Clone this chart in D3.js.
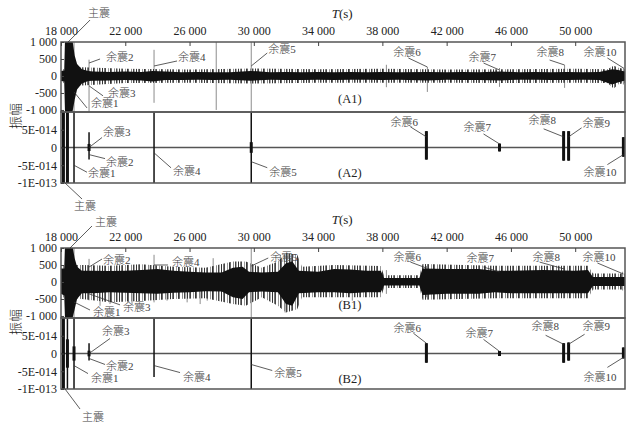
<!DOCTYPE html>
<html>
  <head>
    <meta charset="UTF-8">
    <style>
      body {
        margin: 0;
        background: white;
      }

      svg text {
        font-family: 'Liberation Serif', 'Noto Sans CJK SC', serif;
        fill: #222;
      }

      .axis text {
        font-size: 12px;
      }

      .axis .domain {
        display: none;
      }

      .axis .tick line {
        stroke: #444;
      }

      .note text {
        font-size: 11px;
        font-weight: 300;
        fill: #444;
      }

      .note line {
        stroke: #333;
        stroke-width: 0.8;
      }

      .frame {
        fill: none;
        stroke: #555;
        stroke-width: 1.5;
      }
    </style>
    <script src="https://d3js.org/d3.v7.min.js"></script>
  </head>

  <body>
    <svg id="chart"></svg>

    <script type="text/javascript">
      // axes
      const timeTicks = [18000, 22000, 26000, 30000, 34000, 38000, 42000, 46000, 50000]
      const ampTicks = [1000, 500, 0, -500, -1000]
      const eventTicks = [5e-14, 0, -5e-14, -1e-13]
      const eventTickLabels = ['5E-014', '0', '-5E-014', '-1E-013']

      // (A1) raw record: dense band envelope
      const a1Time = [18000, 18200, 18250, 18700, 18850, 19000, 19300, 19700, 20000, 21000,
        22000, 23000, 23700, 24500, 25500, 26500, 27500, 28500, 29800, 31000,
        32000, 33000, 34000, 35000, 36000, 37000, 38000, 39000, 40800, 42000,
        43000, 44000, 45300, 46500, 47500, 48500, 49500, 50500, 51500, 52300,
        52600, 53100]
      const a1Upper = [150, 160, 1100, 1100, 600, 350, 200, 150, 130, 120,
        130, 120, 150, 130, 110, 120, 110, 110, 150, 110,
        120, 110, 120, 110, 120, 110, 120, 110, 120, 110,
        120, 110, 130, 110, 120, 110, 120, 110, 120, 200,
        180, 130]
      const a1Lower = [-150, -160, -1100, -1100, -700, -400, -220, -150, -140, -130,
        -120, -130, -160, -120, -120, -110, -120, -110, -140, -110,
        -120, -120, -110, -120, -110, -110, -120, -110, -130, -110,
        -120, -120, -130, -110, -110, -120, -120, -110, -120, -250,
        -200, -130]
      // (A1) peaks around the band
      const a1PeakTime = [18000, 19300, 22000, 26000, 30000, 34000, 38000, 42000, 46000, 50000, 52000, 52400, 52700, 53100]
      const a1PeakUpper = [200, 260, 210, 190, 220, 200, 210, 190, 200, 210, 200, 300, 240, 200]
      const a1PeakLower = [-200, -280, -210, -200, -220, -200, -200, -200, -210, -200, -210, -370, -240, -200]
      // (A1) isolated spikes
      const a1SpikeTime = [18810, 19745, 23790, 27660, 29840, 38250, 40800, 45290, 49340, 53000]
      const a1SpikeTop = [1000, 480, 770, 1000, 1000, 330, 265, 235, 320, 250]
      const a1SpikeBottom = [-1060, -1060, -790, -1000, -1060, -330, -470, -320, -350, -250]

      // (A2) extracted events
      const a2Time = [18150, 18400, 18810, 19745, 23790, 29840, 40740, 45290, 49280, 49590, 53000]
      const a2Top = [1e-13, 1e-13, 1e-13, 4.3e-14, 1e-13, 1e-13, 4.6e-14, 1.1e-14, 4.6e-14, 4.6e-14, 2.9e-14]
      const a2Bottom = [-1e-13, -1e-13, -1e-13, -3.4e-14, -1e-13, -1e-13, -3.4e-14, -1.1e-14, -3.7e-14, -3.7e-14, -2.6e-14]
      const a2CoreTop = [1e-13, 1e-13, 0, 1e-14, 0, 1.5e-14, 4.6e-14, 1.1e-14, 4.6e-14, 4.6e-14, 2.9e-14]
      const a2CoreBottom = [-1e-13, -1e-13, 0, -1e-14, 0, -1.5e-14, -3.4e-14, -1.1e-14, -3.7e-14, -3.7e-14, -2.6e-14]

      // (B1) raw record
      const b1Time = [18000, 18200, 18250, 18700, 18850, 19000, 19300, 20000, 21000, 22000,
        23000, 24000, 25000, 26000, 27000, 28000, 28700, 29300, 29700, 30500,
        31500, 32000, 32400, 32800, 34000, 35000, 36000, 37000, 37900, 38100,
        40300, 40500, 42000, 44000, 45000, 46000, 48000, 50000, 50800, 51100,
        53100]
      const b1Upper = [400, 400, 1100, 1100, 700, 450, 330, 330, 320, 330,
        350, 380, 330, 300, 280, 280, 420, 450, 300, 280,
        300, 550, 600, 330, 300, 380, 370, 330, 330, 120,
        120, 400, 380, 380, 330, 330, 350, 330, 350, 150,
        150]
      const b1Lower = [-350, -400, -1100, -1100, -800, -500, -330, -330, -300, -320,
        -330, -350, -320, -300, -270, -280, -450, -500, -300, -280,
        -300, -650, -700, -330, -300, -300, -330, -300, -300, -100,
        -100, -380, -350, -350, -300, -330, -330, -330, -330, -120,
        -120]
      const b1PeakTime = [18000, 19300, 21000, 23000, 25000, 27000, 28700, 29500, 30500, 31500, 32000,
        32700, 33000, 35000, 37900, 38100, 40300, 40500, 45000, 50800, 51100, 53100]
      const b1PeakUpper = [500, 500, 480, 520, 450, 420, 600, 600, 420, 600, 850,
        800, 450, 500, 470, 200, 200, 530, 480, 480, 250, 250]
      const b1PeakLower = [-450, -500, -600, -560, -500, -480, -650, -700, -450, -700, -900,
        -800, -450, -450, -450, -180, -180, -520, -480, -480, -220, -220]
      const b1SpikeTime = [18810, 19745, 20430, 21050, 21800, 22420, 23550, 23790, 24600, 25850, 26660, 27100,
        27470, 29840, 31650, 31950, 32270, 36130, 38250, 40740, 45290, 49340, 52950]
      const b1SpikeTop = [1000, 680, 300, 300, 300, 300, 500, 800, 300, 300, 300, 400,
        700, 1000, 800, 500, 700, 300, 350, 470, 350, 400, 300]
      const b1SpikeBottom = [-1060, -540, -700, -650, -500, -650, -300, -600, -550, -600, -650, -550,
        -300, -1060, -400, -900, -400, -550, -350, -450, -350, -450, -250]

      // (B2) extracted events
      const b2Time = [18150, 18400, 18810, 19745, 23790, 29840, 40740, 45290, 49280, 49590, 53000]
      const b2Top = [1e-13, 1e-13, 1e-13, 2.9e-14, 1e-13, 1e-13, 2.9e-14, 0.7e-14, 2.9e-14, 3.1e-14, 1.7e-14]
      const b2Bottom = [-1e-13, -1e-13, -1e-13, -2e-14, -6.6e-14, -1e-13, -2.6e-14, -0.7e-14, -2.6e-14, -2e-14, -1.4e-14]
      const b2CoreTop = [1e-13, 4e-14, 2e-14, 0.8e-14, 0, 0, 2.9e-14, 0.7e-14, 2.9e-14, 3.1e-14, 1.7e-14]
      const b2CoreBottom = [-1e-13, -4e-14, -2e-14, -0.8e-14, 0, 0, -2.6e-14, -0.7e-14, -2.6e-14, -2e-14, -1.4e-14]

      // labels: event time/value plus leader offsets (px)
      const notesA1 = [
        { text: '主震', t: 18440, v: 1000, dx: 22, dy: -22, tx: -2, ty: -7 },
        { text: '余震2', t: 19745, v: 382, dx: 11, dy: -4, tx: 6, ty: -2 },
        { text: '余震4', t: 23790, v: 294, dx: 23, dy: -5, tx: 1, ty: -4 },
        { text: '余震5', t: 29840, v: 294, dx: 16, dy: -13, tx: 1, ty: -4 },
        { text: '余震3', t: 19745, v: -290, dx: 14, dy: 10, tx: 5, ty: -3 },
        { text: '余震1', t: 18810, v: -470, dx: 13, dy: 16, tx: 4, ty: -5 },
        { text: '余震6', t: 40800, v: 265, dx: -19, dy: -9, tx: -15, ty: -6 },
        { text: '余震7', t: 45290, v: 176, dx: -16, dy: -7, tx: -15, ty: -6 },
        { text: '余震8', t: 49340, v: 323, dx: -15, dy: -5, tx: -13, ty: -8 },
        { text: '余震10', t: 53000, v: 235, dx: -16, dy: -10, tx: -24, ty: -6 },
      ]
      const notesA2 = [
        { text: '余震3', t: 19745, v: 0, dx: 13, dy: -10, tx: 1, ty: -5 },
        { text: '余震2', t: 19745, v: -2e-14, dx: 16, dy: 4, tx: 1, ty: 3 },
        { text: '余震1', t: 18810, v: -5e-14, dx: 13, dy: 7, tx: 1, ty: 1 },
        { text: '余震4', t: 23790, v: -1.5e-14, dx: 17, dy: 15, tx: 2, ty: 3 },
        { text: '余震5', t: 29840, v: -4e-14, dx: 16, dy: 6, tx: 2, ty: 4 },
        { text: '主震', t: 18250, v: -1e-13, dx: 17, dy: 16, tx: -8, ty: 7 },
        { text: '余震6', t: 40740, v: 3e-14, dx: -16, dy: -10, tx: -20, ty: -5 },
        { text: '余震7', t: 45290, v: 1e-14, dx: -16, dy: -10, tx: -20, ty: -7 },
        { text: '余震8', t: 49280, v: 3e-14, dx: -20, dy: -8, tx: -15, ty: -9 },
        { text: '余震9', t: 49590, v: 3e-14, dx: 13, dy: -9, tx: 1, ty: -5 },
        { text: '余震10', t: 53000, v: -2e-14, dx: -16, dy: 10, tx: -24, ty: 7 },
      ]
      const notesB1 = [
        { text: '主震', t: 18560, v: 1000, dx: 22, dy: -22, tx: 3, ty: -4 },
        { text: '余震2', t: 19745, v: 440, dx: 13, dy: -8, tx: 1, ty: 1 },
        { text: '余震4', t: 23790, v: 500, dx: 14, dy: 0, tx: 4, ty: -3 },
        { text: '余震5', t: 29840, v: 470, dx: 17, dy: -8, tx: 2, ty: -1 },
        { text: '余震1', t: 18810, v: -590, dx: 16, dy: 8, tx: 3, ty: 2 },
        { text: '余震3', t: 19745, v: -350, dx: 31, dy: 11, tx: 3, ty: 2 },
        { text: '余震6', t: 40740, v: 410, dx: -16, dy: -6, tx: -17, ty: -5 },
        { text: '余震7', t: 45290, v: 294, dx: -16, dy: -5, tx: -17, ty: -9 },
        { text: '余震8', t: 49340, v: 380, dx: -25, dy: -7, tx: -7, ty: -5 },
        { text: '余震10', t: 53000, v: 235, dx: -26, dy: -11, tx: -15, ty: -6 },
      ]
      const notesB2 = [
        { text: '余震3', t: 19745, v: 0, dx: 21, dy: -15, tx: -8, ty: -7 },
        { text: '余震2', t: 19745, v: -1.4e-14, dx: 16, dy: 6, tx: 1, ty: 2 },
        { text: '余震1', t: 18810, v: -3.4e-14, dx: 14, dy: 8, tx: 3, ty: 4 },
        { text: '余震4', t: 23790, v: -3.4e-14, dx: 26, dy: 7, tx: 3, ty: 4 },
        { text: '余震5', t: 29840, v: -3.1e-14, dx: 21, dy: 6, tx: 2, ty: 3 },
        { text: '主震', t: 18250, v: -1e-13, dx: 15, dy: 20, tx: 2, ty: 8 },
        { text: '余震6', t: 40740, v: 2.9e-14, dx: -13, dy: -10, tx: -20, ty: -5 },
        { text: '余震7', t: 45290, v: 0.6e-14, dx: -16, dy: -12, tx: -18, ty: -6 },
        { text: '余震8', t: 49280, v: 2.6e-14, dx: -18, dy: -9, tx: -14, ty: -9 },
        { text: '余震9', t: 49590, v: 2.6e-14, dx: 16, dy: -10, tx: -2, ty: -8 },
        { text: '余震10', t: 53000, v: -1.1e-14, dx: -16, dy: 10, tx: -24, ty: 10 },
      ]

      const locale = d3.formatLocale({ decimal: '.', thousands: ' ', grouping: [3], currency: ['', ''], minus: '-' })
      const fmt = locale.format(',')

      function rows(time, hi, lo) {
        return time.map((t, i) => ({ t: t, hi: hi[i], lo: lo[i] }))
      }

      function getChartConfig() {
        let width = 636
        let height = 424
        let margin = { left: 61, right: 11 }
        let waveHeight = 70
        let eventHeight = 71

        let svg = d3.select('#chart')
          .attr('width', width)
          .attr('height', height)

        // hairy fill for the noise fringe (irregular comb of thin strokes)
        let hair = svg.append('defs')
          .append('pattern')
          .attr('id', 'hair')
          .attr('patternUnits', 'userSpaceOnUse')
          .attr('width', 17)
          .attr('height', 10)
        let strands = [[0, '#333'], [2, '#777'], [3, '#444'], [6, '#999'], [8, '#333'], [9, '#666'], [12, '#888'], [14, '#444'], [15, '#aaa']]
        strands.forEach(s => {
          hair.append('rect')
            .attr('x', s[0]).attr('width', 1).attr('height', 10)
            .attr('fill', s[1])
        })

        let groups = [
          {
            name: 'A', top: 42,
            band: rows(a1Time, a1Upper, a1Lower),
            peaks: rows(a1PeakTime, a1PeakUpper, a1PeakLower),
            spikes: rows(a1SpikeTime, a1SpikeTop, a1SpikeBottom),
            events: rows(a2Time, a2Top, a2Bottom),
            cores: rows(a2Time, a2CoreTop, a2CoreBottom),
            waveNotes: notesA1, eventNotes: notesA2,
          },
          {
            name: 'B', top: 248,
            band: rows(b1Time, b1Upper, b1Lower),
            peaks: rows(b1PeakTime, b1PeakUpper, b1PeakLower),
            spikes: rows(b1SpikeTime, b1SpikeTop, b1SpikeBottom),
            events: rows(b2Time, b2Top, b2Bottom),
            cores: rows(b2Time, b2CoreTop, b2CoreBottom),
            waveNotes: notesB1, eventNotes: notesB2,
          },
        ]

        return { width, height, margin, waveHeight, eventHeight, svg, groups }
      }

      function drawNotes(g, notes, x, y) {
        let note = g.append('g')
          .attr('class', 'note')
          .selectAll('g')
          .data(notes)
          .enter()
          .append('g')

        note.append('line')
          .attr('x1', d => x(d.t))
          .attr('y1', d => y(d.v))
          .attr('x2', d => x(d.t) + d.dx)
          .attr('y2', d => y(d.v) + d.dy)

        note.append('text')
          .attr('x', d => x(d.t) + d.dx + d.tx)
          .attr('y', d => y(d.v) + d.dy + d.ty)
          .attr('dy', '0.36em')
          .text(d => d.text)
      }

      function drawGroup(group, x, config) {
        let svg = config.svg
        let top = group.top
        let left = config.margin.left
        let bodyWidth = config.width - config.margin.left - config.margin.right
        let waveBottom = top + config.waveHeight
        let eventBottom = waveBottom + config.eventHeight

        let yWave = d3.scaleLinear().domain([-1060, 1000]).range([waveBottom, top])
        let yEvent = d3.scaleLinear().domain([-1e-13, 1e-13]).range([eventBottom, waveBottom])

        let defs = svg.append('defs')
        defs.append('clipPath').attr('id', `clip-${group.name}1`)
          .append('rect').attr('x', left).attr('y', top).attr('width', bodyWidth).attr('height', config.waveHeight)
        defs.append('clipPath').attr('id', `clip-${group.name}2`)
          .append('rect').attr('x', left).attr('y', waveBottom).attr('width', bodyWidth).attr('height', config.eventHeight)

        // raw waveform panel
        let wave = svg.append('g').attr('clip-path', `url(#clip-${group.name}1)`)

        wave.selectAll('.spike')
          .data(group.spikes)
          .enter()
          .append('line')
          .attr('class', 'spike')
          .attr('x1', d => x(d.t)).attr('x2', d => x(d.t))
          .attr('y1', d => yWave(d.hi)).attr('y2', d => yWave(d.lo))
          .attr('stroke', '#8c8c8c')
          .attr('stroke-width', 1)

        let area = d3.area()
          .x(d => x(d.t))
          .y0(d => yWave(d.lo))
          .y1(d => yWave(d.hi))

        wave.append('path')
          .datum(group.peaks)
          .attr('d', area)
          .attr('fill', 'url(#hair)')

        wave.append('path')
          .datum(group.band)
          .attr('d', area)
          .attr('fill', '#111')

        // event panel
        let ev = svg.append('g').attr('clip-path', `url(#clip-${group.name}2)`)

        ev.append('line')
          .attr('x1', x.range()[0]).attr('x2', x.range()[1])
          .attr('y1', yEvent(0)).attr('y2', yEvent(0))
          .attr('stroke', '#555')
          .attr('stroke-width', 1.5)

        ev.selectAll('.event')
          .data(group.events)
          .enter()
          .append('line')
          .attr('class', 'event')
          .attr('x1', d => x(d.t)).attr('x2', d => x(d.t))
          .attr('y1', d => yEvent(d.hi)).attr('y2', d => yEvent(d.lo))
          .attr('stroke', '#111')
          .attr('stroke-width', 1.5)

        ev.selectAll('.core')
          .data(group.cores.filter(d => d.hi !== d.lo))
          .enter()
          .append('line')
          .attr('class', 'core')
          .attr('x1', d => x(d.t)).attr('x2', d => x(d.t))
          .attr('y1', d => yEvent(d.hi)).attr('y2', d => yEvent(d.lo))
          .attr('stroke', '#111')
          .attr('stroke-width', 3)

        // frames
        svg.append('rect').attr('class', 'frame')
          .attr('x', left).attr('y', top).attr('width', bodyWidth).attr('height', config.waveHeight)
        svg.append('rect').attr('class', 'frame')
          .attr('x', left).attr('y', waveBottom).attr('width', bodyWidth).attr('height', config.eventHeight)

        // axes
        svg.append('g')
          .attr('class', 'axis')
          .attr('transform', `translate(0,${top})`)
          .call(d3.axisTop(x).tickValues(timeTicks).tickFormat(fmt).tickSize(-4).tickPadding(7))

        svg.append('g')
          .attr('class', 'axis')
          .attr('transform', `translate(${left},0)`)
          .call(d3.axisLeft(yWave).tickValues(ampTicks).tickFormat(fmt).tickSize(-3).tickPadding(4))

        svg.append('g')
          .attr('class', 'axis')
          .attr('transform', `translate(${left},0)`)
          .call(d3.axisLeft(yEvent).tickValues(eventTicks).tickFormat((d, i) => eventTickLabels[i]).tickSize(-3).tickPadding(4))

        let tLabel = svg.append('text')
          .attr('x', x(35500))
          .attr('y', top - 24)
          .attr('text-anchor', 'middle')
          .style('font-size', '13px')
        tLabel.append('tspan').style('font-style', 'italic').text('T')
        tLabel.append('tspan').text('(s)')

        svg.append('text')
          .attr('transform', `translate(15,${waveBottom + 4}) rotate(-90)`)
          .attr('text-anchor', 'middle')
          .attr('dy', '0.35em')
          .style('font-family', "'Noto Sans CJK SC', sans-serif")
          .style('font-size', '13px')
          .style('font-weight', 300)
          .text('振幅')

        svg.append('text')
          .attr('x', x(35980)).attr('y', yWave(-660))
          .attr('dy', '0.36em').attr('text-anchor', 'middle')
          .style('font-size', '12.5px')
          .text(`(${group.name}1)`)

        svg.append('text')
          .attr('x', x(35980)).attr('y', yEvent(-7e-14))
          .attr('dy', '0.36em').attr('text-anchor', 'middle')
          .style('font-size', '12.5px')
          .text(`(${group.name}2)`)

        drawNotes(svg, group.waveNotes, x, yWave)
        drawNotes(svg, group.eventNotes, x, yEvent)
      }

      function showData() {
        let config = getChartConfig()
        let x = d3.scaleLinear()
          .domain([18000, 53100])
          .range([config.margin.left, config.width - config.margin.right])

        config.groups.forEach(group => drawGroup(group, x, config))
      }

      showData()
    </script>
  </body>
</html>
